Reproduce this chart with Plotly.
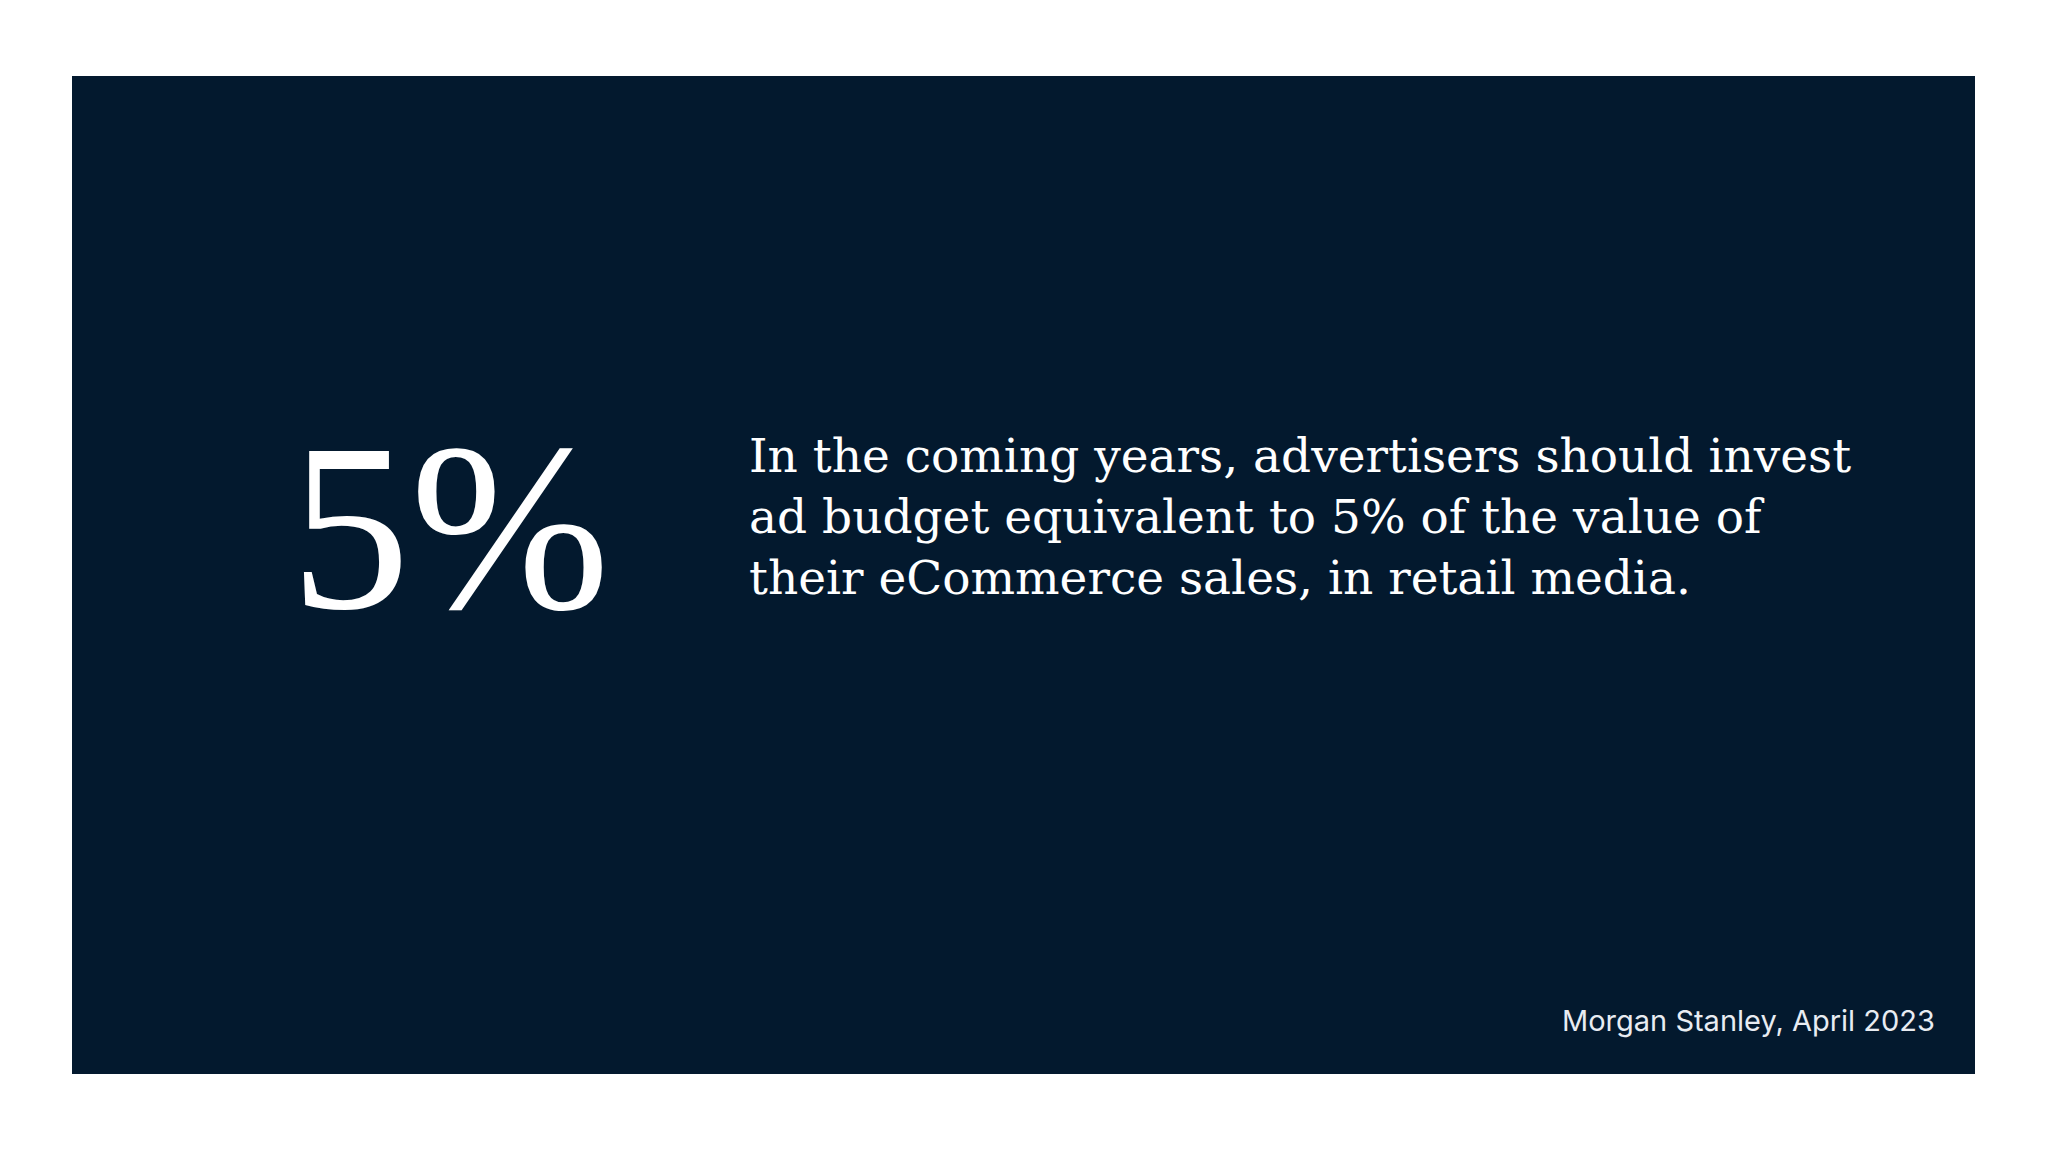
import plotly.graph_objects as go

big_stat = "5%"
body_lines = [
    "In the coming years, advertisers should invest",
    "ad budget equivalent to 5% of the value of",
    "their eCommerce sales, in retail media.",
]
source = "Morgan Stanley, April 2023"

W, H = 2048, 1152
bg = "#03192e"

fig = go.Figure()
fig.add_shape(type="rect", x0=64, x1=1967, y0=68, y1=1066,
              fillcolor=bg, line_width=0, layer="below")

fig.add_annotation(x=604, y=519, text=big_stat, showarrow=False,
                   xanchor="right", yanchor="middle",
                   font=dict(family="Liberation Serif", size=240, color="white"))
fig.add_annotation(x=739, y=508, text="<br>".join(body_lines), showarrow=False,
                   xanchor="left", yanchor="middle", align="left",
                   font=dict(family="DejaVu Serif", size=47, color="white"))
fig.add_annotation(x=1929, y=1012, text=source, showarrow=False,
                   xanchor="right", yanchor="middle",
                   font=dict(family="Inter", size=29, color="#e8ecf2"))

fig.update_xaxes(range=[0, W], visible=False)
fig.update_yaxes(range=[H, 0], visible=False)
fig.update_layout(width=W, height=H, margin=dict(l=0, r=0, t=0, b=0),
                  paper_bgcolor="white", plot_bgcolor="white", showlegend=False)
fig.write_html("out.html")
